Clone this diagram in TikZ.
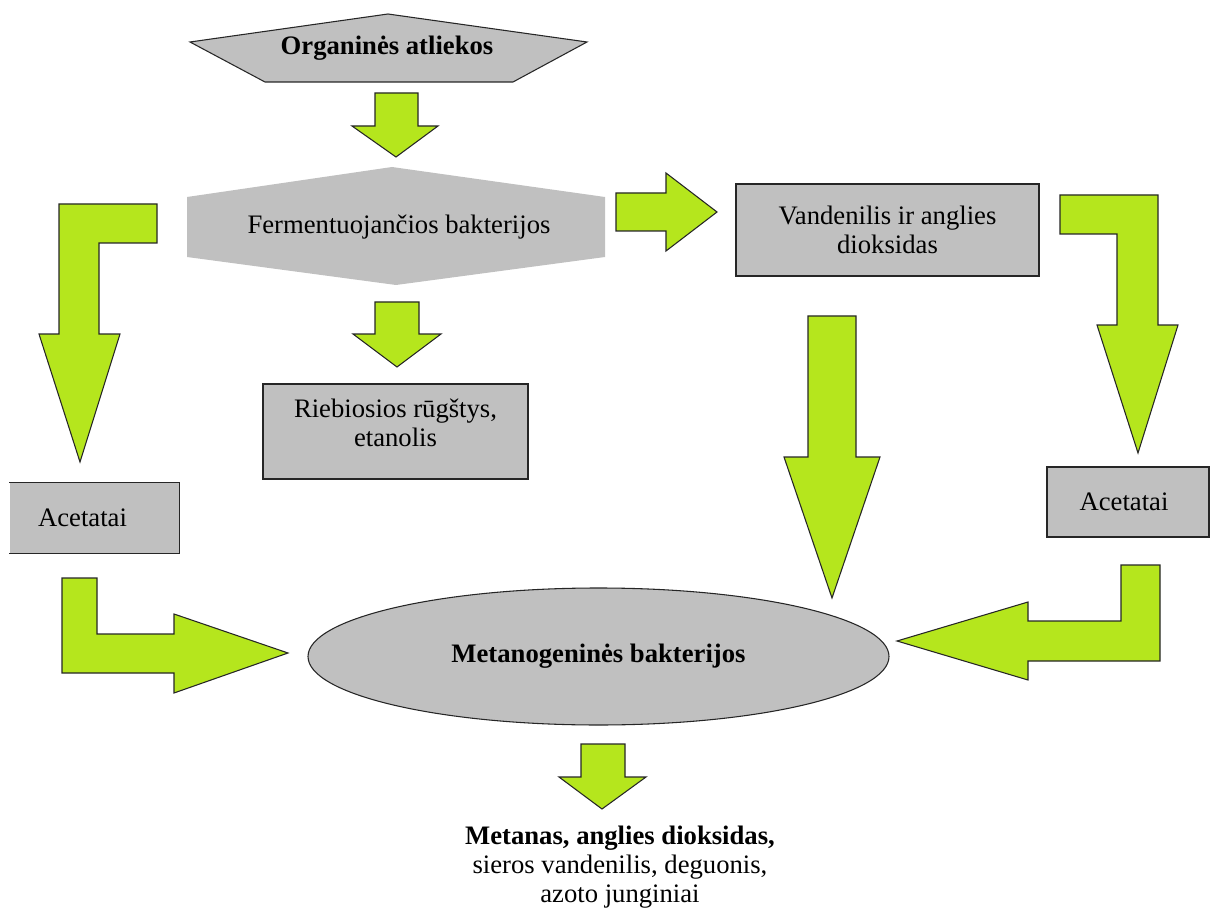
\documentclass[tikz,border=0pt]{standalone}
\usepackage{fontspec}
\setmainfont{Liberation Serif}
\usetikzlibrary{positioning, shapes.geometric}
\definecolor{arrowgreen}{RGB}{181,230,29}
\definecolor{boxgray}{RGB}{192,192,192}
\tikzset{
  blockarrow/.style={fill=arrowgreen, draw=black!85, line width=0.8pt, line join=miter}, % the green block arrows
  graybox/.style={rectangle, fill=boxgray, draw=black!85, line width=0.8pt, align=center,
    font=\fontsize{20}{21.75}\selectfont}, % grey boxes with text
  plain text/.style={align=center, font=\fontsize{20}{21.75}\selectfont},
  bold text/.style={align=center, font=\fontsize{20}{21.75}\selectfont\bfseries},
}

\begin{document}
\begin{tikzpicture}[x=0.75pt, y=-0.75pt]
      \useasboundingbox (0,0) rectangle (1210,909);

      % first stage
      \draw[fill=boxgray, draw=black!85, line width=0.8pt] (190,42) -- (388,14) -- (587,42) -- (513,82) -- (265,82) -- cycle;
      \node[bold text] (org) at (387,48) {Organinės atliekos};
      \fill[boxgray] (187,197) -- (392,167) -- (605,197) -- (605,257) -- (396,285) -- (187,257) -- cycle;
      \node[plain text] (ferm) at (399,227) {Fermentuojančios bakterijos};

      % products
      \node[graybox, minimum width=227.25pt, minimum height=69pt] (vand) at (887.5,230) {Vandenilis ir anglies\\dioksidas};
      \node[graybox, minimum width=198.75pt, minimum height=71.25pt] (rieb) at (395.5,431.5) {Riebiosios rūgštys,\\etanolis\\[-8pt]\mbox{}};
      \node[graybox, draw=none, minimum width=126.75pt, minimum height=52.5pt] (acl) at (94.5,518) {Acetatai\hspace*{18pt}};
      \draw[black!85, line width=0.8pt] (acl.north west) -- (acl.north east) -- (acl.south east) -- (acl.south west);
      \node[graybox, minimum width=121.5pt, minimum height=52.5pt] (acr) at (1128,502) {Acetatai\hspace*{6pt}};

      % last stage
      \node[ellipse, fill=boxgray, draw=black!85, line width=0.8pt, minimum width=435.75pt, minimum height=102.75pt, bold text] (meth) at (598.5,656.5) {Metanogeninės bakterijos};
      \node[plain text] (out) at (620,867) {\textbf{Metanas, anglies dioksidas,}\\sieros vandenilis, deguonis,\\azoto junginiai};

      % arrows
      \draw[blockarrow] (375,93) -- (418,93) -- (418,126) -- (438,126) -- (396,157) -- (352,126) -- (375,126) -- cycle;
      \draw[blockarrow] (375,302) -- (419,302) -- (419,334) -- (441,334) -- (397,367) -- (353,334) -- (375,334) -- cycle;
      \draw[blockarrow] (616,193) -- (666,193) -- (666,173) -- (717,212) -- (666,251) -- (666,231) -- (616,231) -- cycle;
      \draw[blockarrow] (157,204) -- (157,243) -- (99,243) -- (99,334) -- (120,334) -- (80,462) -- (39,334) -- (59,334) -- (59,204) -- cycle;
      \draw[blockarrow] (1060,195) -- (1158,195) -- (1158,325) -- (1178,325) -- (1138,453) -- (1097,325) -- (1117,325) -- (1117,234) -- (1060,234) -- cycle;
      \draw[blockarrow] (808,316) -- (856,316) -- (856,457) -- (880,457) -- (832,598) -- (784,457) -- (808,457) -- cycle;
      \draw[blockarrow] (62,578) -- (97,578) -- (97,634) -- (174,634) -- (174,614) -- (288,653) -- (174,693) -- (174,673) -- (62,673) -- cycle;
      \draw[blockarrow] (1121,565) -- (1160,565) -- (1160,661) -- (1028,661) -- (1028,680) -- (897,641) -- (1028,602) -- (1028,621) -- (1121,621) -- cycle;
      \draw[blockarrow] (581,744) -- (625,744) -- (625,777) -- (646,777) -- (602,809) -- (559,777) -- (581,777) -- cycle;
    \end{tikzpicture}
\end{document}
